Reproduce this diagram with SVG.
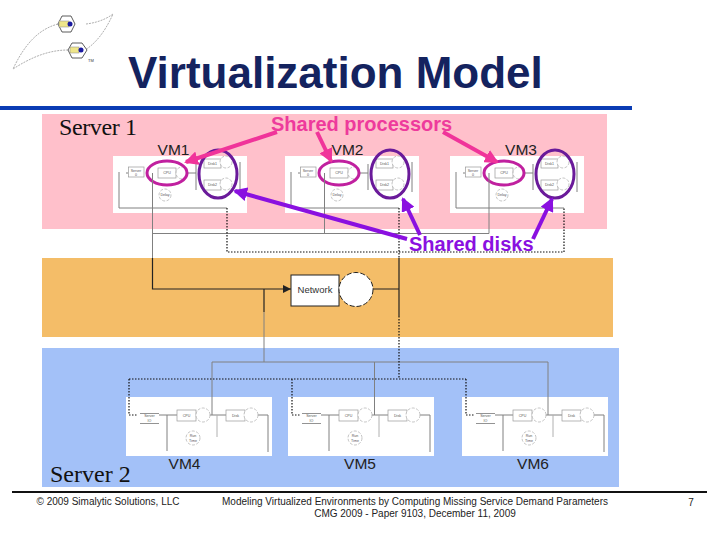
<svg xmlns="http://www.w3.org/2000/svg" xmlns:xlink="http://www.w3.org/1999/xlink" width="720" height="540" viewBox="0 0 720 540">
<style>
.sans{font-family:"Liberation Sans",Arial,sans-serif}
.serif{font-family:"Liberation Serif","Times New Roman",serif;font-size:24px;fill:#111}
.vm{font-family:"Liberation Sans",Arial,sans-serif;font-size:15.5px;fill:#222;text-anchor:middle}
.foot{font-family:"Liberation Sans",Arial,sans-serif;font-size:10px;fill:#222;text-anchor:middle}
.tiny{font-family:"Liberation Sans",Arial,sans-serif;font-size:3.6px;fill:#555;text-anchor:middle}
.g{fill:none;stroke:#808080;stroke-width:1}
.lg{fill:none;stroke:#b0b0b0;stroke-width:1}
.k{fill:none;stroke:#222;stroke-width:1.2}
.dot{fill:none;stroke:#111;stroke-width:1.2;stroke-dasharray:1.5 1.5}
.box{fill:#fff;stroke:#999;stroke-width:.7}
.c{fill:#fff;stroke:#aaa;stroke-width:.7;stroke-dasharray:3 1.5}
.p{fill:none;stroke:#c0209f;stroke-width:3}
.d{fill:none;stroke:#6a1a9a;stroke-width:3}
.pa{stroke:#f0349a;stroke-width:4;fill:none;marker-end:url(#mp)}
.da{stroke:#8a10e0;stroke-width:4;fill:none;marker-end:url(#md)}
.logo{fill:none;stroke:#777;stroke-width:.6;stroke-dasharray:2 1}
</style>
<defs>
<marker id="mp" markerWidth="3.500" markerHeight="3.500" refX="3" refY="1.750" orient="auto"><path d="M0 0L3.500 1.750L0 3.500Z" fill="#f0349a"/></marker>
<marker id="md" markerWidth="3.500" markerHeight="3.500" refX="3" refY="1.750" orient="auto"><path d="M0 0L3.500 1.750L0 3.500Z" fill="#8a10e0"/></marker>
<g id="top">
<rect width="134" height="57" fill="#fff"/>
<path class="g" d="M6 16V52H114M127 6V36M83 8V34M15 17H13"/>
<path class="g" d="M45 17H83"/>
<rect class="box" x="15.500" y="11" width="15.500" height="10"/>
<text class="tiny" x="23" y="15.500">Server</text><text class="tiny" x="23" y="20">0</text>
<rect class="box" x="45" y="12" width="18" height="10"/>
<text class="tiny" x="54" y="18">CPU</text>
<circle class="c" cx="69" cy="17" r="6"/>
<circle class="c" cx="52" cy="39" r="6"/>
<text class="tiny" x="52" y="40">Delay</text>
<rect class="box" x="91" y="3" width="17" height="9"/>
<text class="tiny" x="99.500" y="9">Disk1</text>
<circle class="c" cx="113" cy="6" r="6"/>
<rect class="box" x="91" y="24" width="17" height="10"/>
<text class="tiny" x="99.500" y="30">Disk2</text>
<circle class="c" cx="113" cy="28" r="6"/>
<ellipse class="p" cx="54" cy="17" rx="20" ry="12"/>
<ellipse class="d" cx="105" cy="18" rx="19" ry="24"/>
</g>
<g id="bot">
<rect width="146" height="59" fill="#fff"/>
<path class="g" d="M33 18H51M77 18H100M125 18H142V55M41 18V54"/>
<path class="lg" d="M91 18V40"/>
<path d="M14 16.500H33M14 26.500H33" stroke="#777" stroke-width=".8"/>
<text class="tiny" x="23.500" y="20">Server</text><text class="tiny" x="23.500" y="25">IO</text>
<rect class="box" x="51" y="13" width="19" height="11"/>
<text class="tiny" x="60.500" y="20">CPU</text>
<circle class="c" cx="77" cy="18" r="7"/>
<rect class="box" x="100" y="13" width="19" height="11"/>
<text class="tiny" x="109.500" y="20">Disk</text>
<circle class="c" cx="125" cy="18" r="7"/>
<circle class="c" cx="67" cy="41" r="7"/>
<text class="tiny" x="67" y="40">Run</text><text class="tiny" x="67" y="44.500">Time</text>
</g>
</defs>
<rect width="720" height="540" fill="#fff"/>
<g id="logo">
<path class="logo" d="M86 24C95 23 105 20 113 14C105 32 95 44 85 50M58 24C35 30 22 50 13 69C30 58 48 50 68 50"/>
<path d="M58 24L62 16H71L75 24L71 32H62Z" fill="#fff" stroke="#333" stroke-width=".8"/>
<path d="M68 50L72 43H82L87 50L82 58H72Z" fill="#fff" stroke="#333" stroke-width=".8"/>
<rect x="59" y="21" width="10" height="6" fill="#eee58a" stroke="#888" stroke-width=".5"/>
<rect x="70" y="47" width="9" height="6" fill="#eee58a" stroke="#888" stroke-width=".5"/>
<circle cx="70" cy="24" r="2.500" fill="#1a1aa0"/>
<circle cx="81" cy="50" r="2.500" fill="#1a1aa0"/>
<text x="91" y="62" font-family="Liberation Sans,sans-serif" font-size="4" fill="#333" text-anchor="middle">TM</text>
</g>
<g id="title"><text class="sans" x="128" y="88" font-size="44" font-weight="bold" fill="#14235f">Virtualization Model</text></g>
<rect x="0" y="106" width="632" height="4" fill="#0a3cb4"/>
<rect x="42" y="114" width="565" height="115" fill="#ffc0cb"/>
<rect x="42" y="258" width="571" height="79" fill="#f4bd68"/>
<rect x="42" y="348" width="577" height="139" fill="#a3c1f8"/>
<g id="vm1"><use href="#top" x="113" y="156"/></g>
<g id="vm2"><use href="#top" x="285" y="156"/></g>
<g id="vm3"><use href="#top" x="450" y="156"/></g>
<g id="vm4"><use href="#bot" x="126" y="397"/></g>
<g id="vm5"><use href="#bot" x="288" y="397"/></g>
<g id="vm6"><use href="#bot" x="462" y="397"/></g>
<g id="connectors">
<path class="g" d="M152.500 173V258M152.500 233.500H489M324.500 173V233.500M489 173V233.500"/>
<path class="dot" d="M227 208V252H564V208M399 208V258"/>
<path class="k" d="M152.500 258V289H291M264 289V312M373 289H399M399 258V316"/>
<path d="M283 285L291 289L283 293Z" fill="#222"/>
<path class="g" d="M264 312V362M212 362H548M212 362V415M374.500 362V415M548 362V415"/>
<path class="dot" d="M399 316V379M129 379H466M129 379V415H138M292 379V415H300M466 379V415H474"/>
<path class="pa" d="M277 132L186 162"/>
<path class="pa" d="M317 132L331 161"/>
<path class="pa" d="M443 132L497 162"/>
<path class="da" d="M407 239L235 191"/>
<path class="da" d="M420 235L403 199"/>
<path class="da" d="M533 239L552 199"/>
</g>
<g id="network">
<rect x="291" y="275" width="48" height="31" fill="#fff" stroke="#222" stroke-width="1"/>
<text class="sans" x="315" y="293" font-size="9.500" fill="#333" text-anchor="middle">Network</text>
<circle cx="356" cy="289.500" r="17" fill="#fff" stroke="#222" stroke-width="1" stroke-dasharray="5 2"/>
</g>
<text class="serif" x="59" y="135" textLength="78">Server 1</text>
<text class="serif" x="50" y="482">Server 2</text>
<text class="sans" x="271" y="131" font-size="20" font-weight="bold" fill="#ee3a9c">Shared processors</text>
<text class="sans" x="409" y="251" font-size="20" font-weight="bold" fill="#8a10e0">Shared disks</text>
<text class="vm" x="173.500" y="155">VM1</text>
<text class="vm" x="347.500" y="155">VM2</text>
<text class="vm" x="521" y="155">VM3</text>
<text class="vm" x="184.500" y="469">VM4</text>
<text class="vm" x="360" y="469">VM5</text>
<text class="vm" x="533" y="469">VM6</text>
<rect x="12" y="491" width="695" height="2" fill="#111"/>
<text class="foot" x="108" y="505">© 2009 Simalytic Solutions, LLC</text>
<text class="foot" x="415" y="505" textLength="386">Modeling Virtualized Environments by Computing Missing Service Demand Parameters</text>
<text class="foot" x="415" y="517">CMG 2009 - Paper 9103, December 11, 2009</text>
<text class="foot" x="691" y="506">7</text>
</svg>
